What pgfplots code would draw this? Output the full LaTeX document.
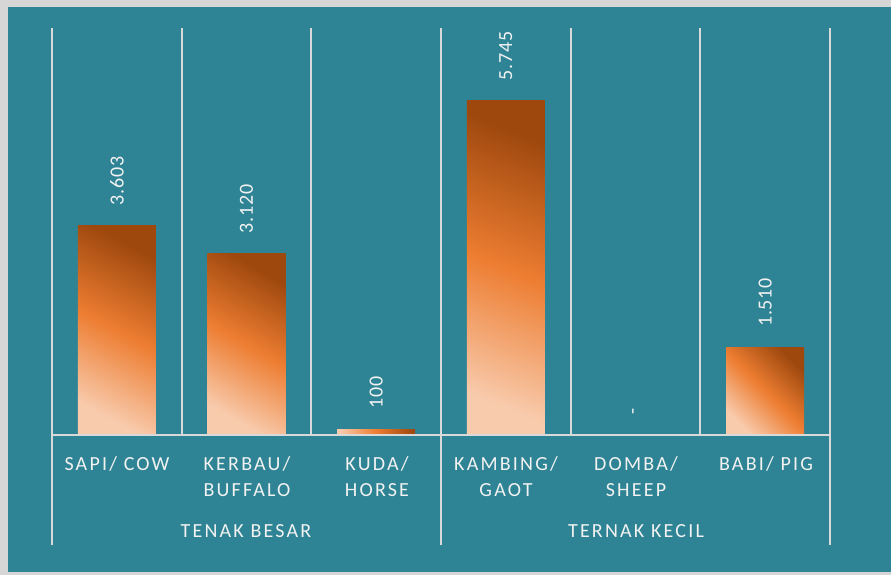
\documentclass[border=0pt]{standalone}
\usepackage{fontspec}
\setmainfont{Carlito}
\newfontfamily\lblfont{Carlito}[LetterSpace=11]
\newfontfamily\numfont{Carlito}[LetterSpace=4]
\usepackage{pgfplots}
\pgfplotsset{compat=1.18}
\definecolor{bordergray}{HTML}{D6D6D6}
\definecolor{bgteal}{HTML}{2E8494}
\definecolor{linegray}{HTML}{D9D9D9}
\definecolor{txt}{HTML}{F2F2F2}
\definecolor{barlight}{HTML}{F8CBAD}
\definecolor{barmid}{HTML}{ED7D31}
\definecolor{bardark}{HTML}{9E480E}
\pgfplotsset{barstyle/.style={draw=none, left color=barlight, right color=bardark, middle color=barmid}}
\begin{document}
\begin{tikzpicture}
\begin{scope}[x=0.5bp,y=-0.5bp]
  \fill[bordergray] (0,0) rectangle (891,575);
  \fill[bgteal] (8,7) rectangle (891,572);
\end{scope}
\begin{axis}[
  at={(26bp,-217.5bp)}, anchor=south west,
  scale only axis, width=389bp, height=203.5bp,
  xmin=0, xmax=6, ymin=0, ymax=7000,
  axis line style={draw=none},
  xtick={0,1,2,3,4,5,6}, xticklabel style={opacity=0}, ytick=\empty,
  major tick length=0pt,
  xmajorgrids, grid style={draw=linegray, line width=1bp},
  ybar, bar width=39bp, bar shift=0pt,
  clip=false,
  point meta=explicit symbolic,
  nodes near coords,
  nodes near coords align=horizontal,
  every node near coord/.append style={rotate=90, anchor=west, inner xsep=10bp, inner ysep=0pt,
     text=txt, font={\numfont\fontsize{10bp}{12bp}\selectfont}},
]
\addplot[barstyle, shading angle=152] coordinates {(0.5,3603) [3.603]};
\addplot[barstyle, shading angle=150] coordinates {(1.5,3120) [3.120]};
\addplot[barstyle, shading angle=94] coordinates {(2.5,100) [100]};
\addplot[barstyle, shading angle=158] coordinates {(3.5,5745) [5.745]};
\addplot[draw=none, fill=none] coordinates {(4.5,0) [-]};
\addplot[barstyle, shading angle=135] coordinates {(5.5,1510) [1.510]};
\end{axis}
\begin{scope}[x=0.5bp,y=-0.5bp, every node/.style={text=txt, font={\lblfont\fontsize{10bp}{12bp}\selectfont}, anchor=base, inner sep=0pt}]
  \draw[linegray, line width=1bp] (52,435) -- (830,435);
  \draw[linegray, line width=1bp] (52,435) -- (52,545);
  \draw[linegray, line width=1bp] (441,435) -- (441,545);
  \draw[linegray, line width=1bp] (830,435) -- (830,545);
  \node at (117,470) {SAPI/ COW};
  \node at (247,470) {KERBAU/};
  \node at (247,496) {BUFFALO};
  \node at (377,470) {KUDA/};
  \node at (377,496) {HORSE};
  \node at (506,470) {KAMBING/};
  \node at (506,496) {GAOT};
  \node at (636,470) {DOMBA/};
  \node at (636,496) {SHEEP};
  \node at (766,470) {BABI/ PIG};
  \node at (246,537) {TENAK BESAR};
  \node at (636,537) {TERNAK KECIL};
\end{scope}
\end{tikzpicture}
\end{document}
